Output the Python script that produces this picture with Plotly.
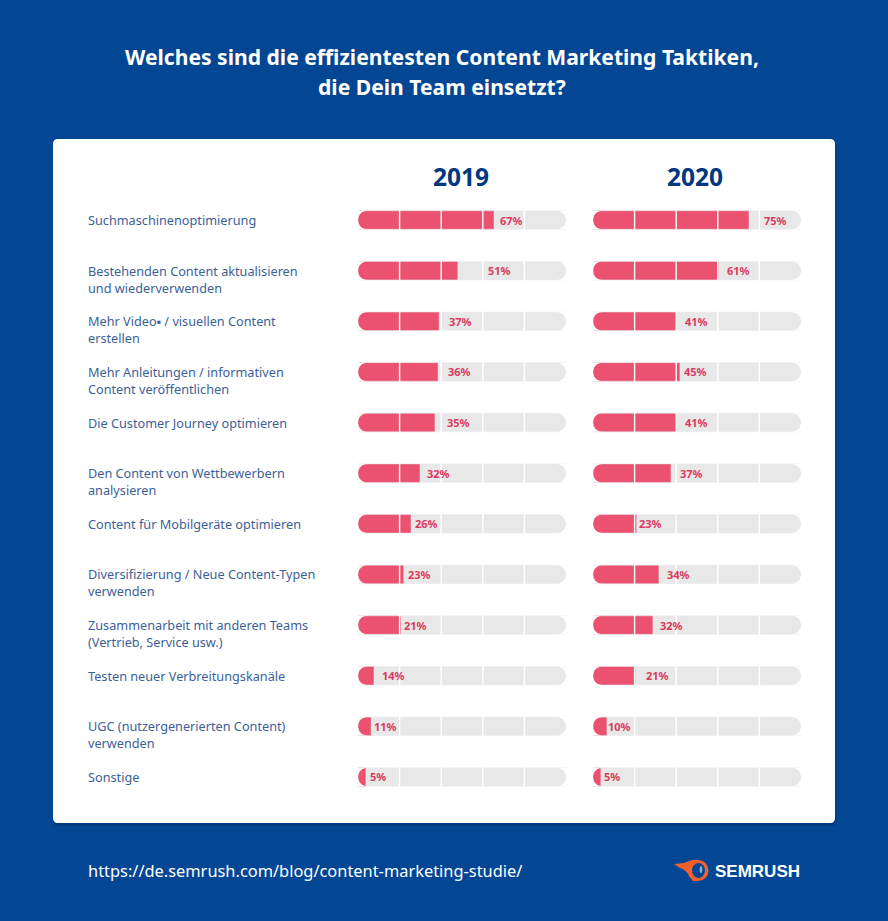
import plotly.graph_objects as go

categories = [
    "Suchmaschinenoptimierung",
    "Bestehenden Content aktualisieren<br>und wiederverwenden",
    "Mehr Video▪ / visuellen Content<br>erstellen",
    "Mehr Anleitungen / informativen<br>Content veröffentlichen",
    "Die Customer Journey optimieren",
    "Den Content von Wettbewerbern<br>analysieren",
    "Content für Mobilgeräte optimieren",
    "Diversifizierung / Neue Content-Typen<br>verwenden",
    "Zusammenarbeit mit anderen Teams<br>(Vertrieb, Service usw.)",
    "Testen neuer Verbreitungskanäle",
    "UGC (nutzergenerierten Content)<br>verwenden",
    "Sonstige",
]
# Printed percentages
labels_2019 = [67, 51, 37, 36, 35, 32, 26, 23, 21, 14, 11, 5]
labels_2020 = [75, 61, 41, 45, 41, 37, 23, 34, 32, 21, 10, 5]
# Bar lengths as drawn in the picture (share of the grey track, %)
bars_2019 = [65.4, 48.0, 39.0, 38.5, 37.0, 29.8, 25.5, 22.0, 20.7, 7.7, 6.3, 3.8]
bars_2020 = [75.0, 60.5, 40.4, 41.8, 40.4, 37.5, 21.0, 31.7, 28.8, 20.5, 6.7, 3.8]
track = [100] * 12

# Label offset from bar end, px (layout only)
gap_2019 = [17, 42, 21, 21, 24, 19, 15, 16, 14, 19, 14, 12]
gap_2020 = [26, 20, 19, 16, 19, 20, 14, 20, 19, 22, 13, 11]

W, H = 888, 921
BLUE = "#034694"
NAVY = "#00387f"
PINK = "#eb5270"
PINK_TXT = "#dc3a60"
GREY = "#e8e8e8"
TXT = "#3c6198"
FONT = "Noto Sans"
BAR_W = 0.366
ROW_TOP, ROW_BOTTOM = 194.7, 802.3
rows = list(range(len(categories)))


def px(v):
    return v / W


def py(v):
    return 1 - v / H


fig = go.Figure()
axes = [("x", "y", 358, 566, bars_2019, labels_2019, gap_2019),
        ("x2", "y2", 593, 801, bars_2020, labels_2020, gap_2020)]

shapes = []


def rounded(x0, y0, x1, y1, r):
    a, b, c, d = px(x0), py(y0), px(x1), py(y1)
    rx, ry = r / W, r / H
    return (f"M {a+rx},{b} L {c-rx},{b} Q {c},{b} {c},{b-ry} L {c},{d+ry} Q {c},{d} {c-rx},{d} "
            f"L {a+rx},{d} Q {a},{d} {a},{d+ry} L {a},{b-ry} Q {a},{b} {a+rx},{b} Z")


shapes.append(dict(type="path", xref="paper", yref="paper", layer="below", line_width=0,
                   fillcolor="#02336f", opacity=0.55, path=rounded(53, 141, 836, 826, 5)))
shapes.append(dict(type="path", xref="paper", yref="paper", layer="below", line_width=0,
                   fillcolor="white", path=rounded(53, 139, 835, 823, 5)))

annotations = []
for xa, ya, x0, x1, bars, labs, gaps in axes:
    fig.add_trace(go.Bar(x=track, y=rows, orientation="h", marker_color=GREY, width=BAR_W,
                         xaxis=xa, yaxis=ya, hoverinfo="skip", showlegend=False))
    fig.add_trace(go.Bar(x=bars, y=rows, orientation="h", marker_color=PINK, width=BAR_W,
                         xaxis=xa, yaxis=ya, showlegend=False))
    for g in (20, 40, 60, 80):
        shapes.append(dict(type="line", xref=xa, yref=f"{ya} domain", x0=g, x1=g, y0=0, y1=1,
                           layer="above", line=dict(color="white", width=1.4)))
    rx = (BAR_W / 2 * (ROW_BOTTOM - ROW_TOP) / 12) / (x1 - x0) * 100
    hy = BAR_W / 2
    k = 0.5523
    for r in rows:
        t, b = r - hy, r + hy
        left = (f"M 0,{t} L {rx},{t} C {rx*(1-k)},{t} 0,{r-hy*k} 0,{r} "
                f"C 0,{r+hy*k} {rx*(1-k)},{b} {rx},{b} L 0,{b} Z")
        right = (f"M 100,{t} L {100-rx},{t} C {100-rx*(1-k)},{t} 100,{r-hy*k} 100,{r} "
                 f"C 100,{r+hy*k} {100-rx*(1-k)},{b} {100-rx},{b} L 100,{b} Z")
        for p in (left, right):
            shapes.append(dict(type="path", xref=xa, yref=ya, layer="above", line_width=0,
                               fillcolor="white", path=p))
    for r, (b, l, g) in enumerate(zip(bars, labs, gaps)):
        annotations.append(dict(x=b, y=r, xref=xa, yref=ya, xshift=g, xanchor="center",
                                yanchor="middle", showarrow=False, text=f"<b>{l}%</b>",
                                font=dict(family=FONT, size=11, color=PINK_TXT)))

# First text line sits level with the bar, the second line below it
for r, c in enumerate(categories):
    annotations.append(dict(x=px(86), y=r, xref="paper", yref="y", xanchor="left", yanchor="top",
                            yshift=11, align="left", showarrow=False, text=c,
                            font=dict(family=FONT, size=12.7, color=TXT)))


def note(x, y, text, size, color, xanchor="center", family=FONT):
    annotations.append(dict(x=px(x), y=py(y), xref="paper", yref="paper", xanchor=xanchor, yanchor="middle",
                            showarrow=False, text=text, borderpad=0,
                            font=dict(family=family, size=size, color=color)))


note(461, 177, "<b>2019</b>", 24.5, NAVY)
note(695, 177, "<b>2020</b>", 24.5, NAVY)
note(442, 56, "<b>Welches sind die effizientesten Content Marketing Taktiken,</b>", 21.1, "white")
note(442, 86, "<b>die Dein Team einsetzt?</b>", 21.1, "white")
note(87, 870, "https://de.semrush.com/blog/content-marketing-studie/", 16.4, "white", "left")
note(714, 871, "<b>SEMRUSH</b>", 17, "white", "left", "Liberation Sans")

ORANGE = "#f4602c"


def poly(points):
    return "M " + " L ".join(f"{px(a)},{py(b)}" for a, b in points) + " Z"


def disc(cx, cy, rx_, ry_, color):
    return dict(type="circle", xref="paper", yref="paper", line_width=0, fillcolor=color,
                x0=px(cx - rx_), x1=px(cx + rx_), y0=py(cy + ry_), y1=py(cy - ry_))


shapes.append(dict(type="path", xref="paper", yref="paper", line_width=0, fillcolor=ORANGE,
                   path=poly([(674, 864), (684, 863), (692, 860), (698, 860), (698, 881), (693, 881),
                              (689, 876), (690, 875), (684, 870), (683, 869), (680, 868)])))
shapes.append(disc(698, 870.5, 10.5, 10.5, ORANGE))
shapes.append(disc(698.5, 870.5, 6.5, 7.5, BLUE))
shapes.append(disc(701, 869.5, 1.3, 3.5, "#8fb0d8"))

dom_y = [py(ROW_BOTTOM), py(ROW_TOP)]
layout_axes = {}
for i, (xa, ya, x0, x1, *_r) in enumerate(axes):
    sfx = "" if i == 0 else "2"
    layout_axes[f"xaxis{sfx}"] = dict(domain=[px(x0), px(x1)], range=[0, 100], visible=False, fixedrange=True,
                                      anchor=ya)
    layout_axes[f"yaxis{sfx}"] = dict(domain=dom_y, range=[11.5, -0.5], visible=False, fixedrange=True,
                                      anchor=xa)

fig.update_layout(width=W, height=H, margin=dict(l=0, r=0, t=0, b=0), paper_bgcolor=BLUE,
                  plot_bgcolor="rgba(0,0,0,0)", barmode="overlay", shapes=shapes, annotations=annotations,
                  showlegend=False, **layout_axes)
fig.write_html("out.html", config={"displayModeBar": False},
               post_script="document.body.style.margin='0';document.body.style.background='#034694';document.documentElement.style.overflow='hidden';")
